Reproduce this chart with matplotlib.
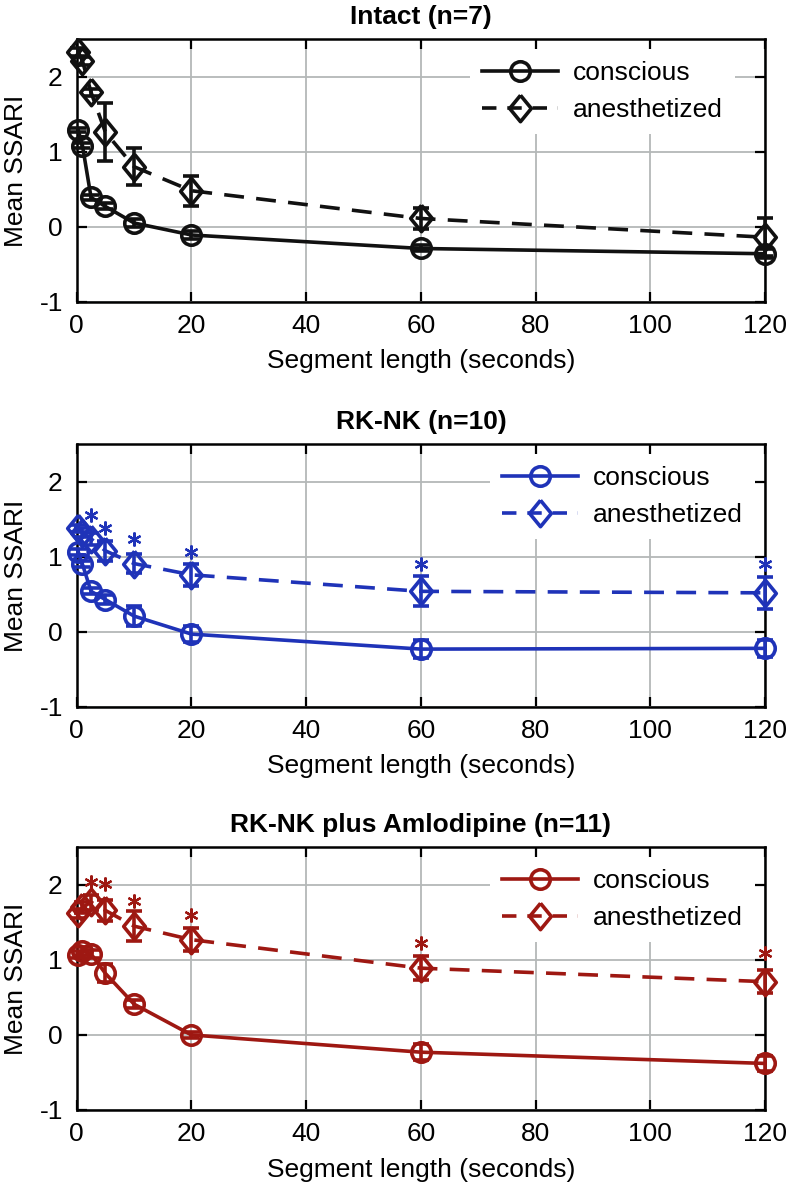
import matplotlib
matplotlib.use("Agg")
import matplotlib.pyplot as plt
from matplotlib.lines import Line2D
import numpy as np

plt.rcParams['font.family'] = ['Liberation Sans', 'DejaVu Sans']
plt.rcParams['axes.unicode_minus'] = False

# segment lengths (s)
seg_len = [0.25, 1, 2.5, 5, 10, 20, 60, 120]

titles = ["Intact (n=7)", "RK-NK (n=10)", "RK-NK plus Amlodipine (n=11)"]
colors = ["#111111", "#1f33b8", "#9e1812"]

# Intact
intact_con = [1.29, 1.08, 0.39, 0.27, 0.05, -0.11, -0.29, -0.36]
intact_con_err = [0.03, 0.03, 0.03, 0.04, 0.05, 0.05, 0.04, 0.06]
intact_ane = [2.33, 2.21, 1.79, 1.26, 0.80, 0.48, 0.11, -0.14]
intact_ane_err = [0.05, 0.05, 0.05, 0.39, 0.25, 0.20, 0.14, 0.25]
intact_star = [np.nan] * 8

# RK-NK
rknk_con = [1.07, 0.90, 0.54, 0.43, 0.21, -0.03, -0.23, -0.22]
rknk_con_err = [0.04, 0.04, 0.04, 0.06, 0.13, 0.11, 0.12, 0.11]
rknk_ane = [1.38, 1.32, 1.24, 1.08, 0.91, 0.76, 0.54, 0.52]
rknk_ane_err = [0.05, 0.06, 0.08, 0.13, 0.13, 0.15, 0.20, 0.21]
rknk_star = [np.nan, np.nan, 1.56, 1.38, 1.24, 1.07, 0.90, 0.90]

# RK-NK plus Amlodipine
amlo_con = [1.07, 1.12, 1.08, 0.82, 0.41, 0.0, -0.23, -0.38]
amlo_con_err = [0.05, 0.05, 0.05, 0.12, 0.05, 0.04, 0.11, 0.10]
amlo_ane = [1.62, 1.70, 1.77, 1.66, 1.45, 1.27, 0.89, 0.71]
amlo_ane_err = [0.06, 0.07, 0.10, 0.14, 0.20, 0.15, 0.16, 0.15]
amlo_star = [np.nan, np.nan, 2.04, 2.01, 1.78, 1.60, 1.23, 1.09]

panels = [
    (intact_con, intact_con_err, intact_ane, intact_ane_err, intact_star),
    (rknk_con, rknk_con_err, rknk_ane, rknk_ane_err, rknk_star),
    (amlo_con, amlo_con_err, amlo_ane, amlo_ane_err, amlo_star),
]

# matlab-like diamond (a bit taller than wide)
diamond = [(0, 1), (0.82, 0), (0, -1), (-0.82, 0), (0, 1)]
dash = (0, (5.5, 3.4))
lw = 2.6


def no_clip(container):
    for art in container.lines:
        for a in (art if isinstance(art, tuple) else [art]):
            if a is not None:
                a.set_clip_on(False)


fig = plt.figure(figsize=(7.87, 11.88), dpi=100)
bottoms = [0.746, 0.405, 0.0657]
leg_x = [0.956, 0.985, 0.985]
fs = 19

for i, (con, con_e, ane, ane_e, star) in enumerate(panels):
    ax = fig.add_axes([0.0975, bottoms[i], 0.8746, 0.221])
    c = colors[i]
    kw = dict(color=c, lw=lw, mfc='none', mew=lw, capsize=6, capthick=lw, elinewidth=lw, zorder=3)
    no_clip(ax.errorbar(seg_len, con, yerr=con_e, marker='o', ms=14, **kw))
    no_clip(ax.errorbar(seg_len, ane, yerr=ane_e, ls=dash, marker=diamond, ms=19, **kw))
    ax.plot(seg_len, star, ls='none', marker=(6, 2, 0), ms=10, mew=1.6, color=c,
            zorder=4, clip_on=False)

    ax.set_xlim(0, 120)
    ax.set_ylim(-1, 2.5)
    ax.set_xticks([0, 20, 40, 60, 80, 100, 120])
    ax.set_yticks([-1, 0, 1, 2])
    ax.grid(True, color='#b4b8b8', lw=1.3)
    ax.set_axisbelow(True)
    ax.tick_params(direction='in', length=7, width=1.6, top=True, right=True,
                   labelsize=fs)
    ax.tick_params(axis='x', pad=9)
    ax.tick_params(axis='y', pad=10)
    for sp in ax.spines.values():
        sp.set_linewidth(1.8)
    ax.set_title(titles[i], fontsize=fs, fontweight='bold', pad=11)
    ax.set_xlabel("Segment length (seconds)", fontsize=fs, labelpad=8)
    ax.set_ylabel("Mean SSARI", fontsize=fs, labelpad=8)

    handles = [
        Line2D([], [], color=c, lw=lw, marker='o', ms=14, mfc='none', mew=lw),
        Line2D([], [], color=c, lw=lw, ls=(0, (4, 3)), marker=diamond, ms=19, mfc='none', mew=lw),
    ]
    leg = ax.legend(handles, ['conscious', 'anesthetized'], loc='upper right',
                    bbox_to_anchor=(leg_x[i], 0.963), borderaxespad=0,
                    fontsize=fs, handlelength=2.9, handletextpad=0.55, labelspacing=0.5,
                    borderpad=0.45, frameon=True, fancybox=False, framealpha=1)
    leg.get_frame().set_edgecolor('none')
    leg.get_frame().set_facecolor('white')

fig.savefig("out.png", dpi=100)
